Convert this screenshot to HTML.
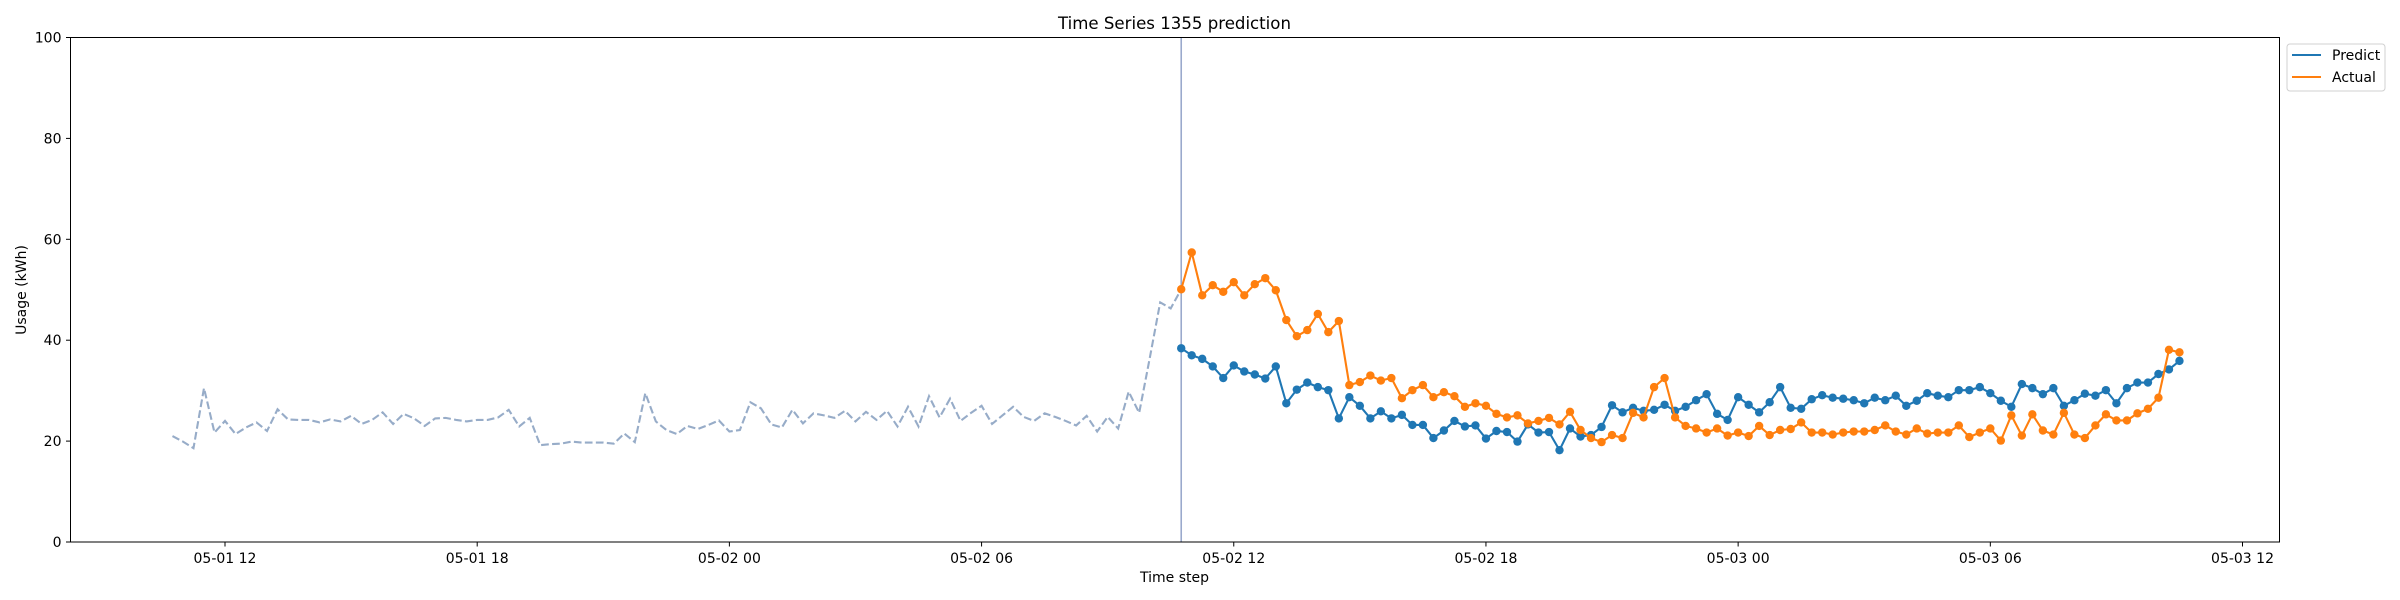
<!DOCTYPE html>
<html><head><meta charset="utf-8"><style>
html,body{margin:0;padding:0;background:#fff;}
svg{display:block;font-family:"DejaVu Sans","Liberation Sans",sans-serif;}
</style></head>
<body>
<svg id="chart" width="2400" height="600" viewBox="0 0 2400 600" xmlns="http://www.w3.org/2000/svg">
<rect x="0" y="0" width="2400" height="600" fill="#fff"/>
<text x="1174.5" y="29" font-size="16.6" text-anchor="middle" fill="#000">Time Series 1355 prediction</text>
<g id="plot"></g>
<rect x="70.5" y="37.5" width="2209" height="504.5" fill="none" stroke="#000" stroke-width="1"/>
<text x="1174.5" y="582" font-size="14" text-anchor="middle">Time step</text>
<text x="0" y="0" font-size="14" text-anchor="middle" transform="translate(26,290) rotate(-90)">Usage (kWh)</text>
<g>
<rect x="2287" y="44" width="98" height="47" rx="3" fill="#fff" stroke="#d0d0d0"/>
<line x1="2292" y1="55" x2="2321" y2="55" stroke="#1f77b4" stroke-width="2"/>
<text x="2332" y="60" font-size="14">Predict</text>
<line x1="2292" y1="77" x2="2321" y2="77" stroke="#ff7f0e" stroke-width="2"/>
<text x="2332" y="82" font-size="14">Actual</text>
</g>
</svg>
<script>
const historyValues = [21.0,19.9,18.6,30.5,21.7,24.0,21.4,22.7,23.7,22.0,26.3,24.3,24.2,24.2,23.7,24.3,23.9,25.0,23.4,24.2,25.7,23.4,25.4,24.5,23.0,24.5,24.6,24.2,23.9,24.2,24.2,24.7,26.2,22.9,24.6,19.2,19.4,19.5,19.9,19.7,19.7,19.7,19.5,21.5,19.8,29.5,23.9,22.2,21.4,23.0,22.4,23.2,24.1,21.9,22.2,27.7,26.5,23.3,22.7,26.2,23.5,25.5,25.1,24.6,26.0,23.9,25.8,24.2,26.0,22.9,26.8,22.9,28.9,24.7,28.4,24.0,25.6,27.0,23.4,25.1,26.8,24.8,24.0,25.5,24.8,24.0,23.1,25.0,21.9,24.8,22.5,29.8,25.6,36.4,47.5,46.3];
const predictValues = [38.4,37.0,36.3,34.8,32.5,35.0,33.8,33.2,32.4,34.8,27.5,30.2,31.6,30.7,30.1,24.5,28.7,27.0,24.5,25.9,24.5,25.2,23.2,23.2,20.6,22.1,24.0,22.9,23.1,20.5,22.0,21.8,19.9,23.3,21.7,21.8,18.2,22.5,20.9,21.2,22.8,27.1,25.7,26.6,26.0,26.2,27.2,26.0,26.8,28.1,29.3,25.4,24.2,28.7,27.2,25.7,27.7,30.7,26.6,26.4,28.3,29.1,28.6,28.4,28.1,27.5,28.6,28.1,29.0,27.0,28.0,29.5,29.0,28.7,30.1,30.1,30.7,29.5,28.0,26.8,31.3,30.5,29.3,30.5,27.0,28.1,29.4,29.0,30.1,27.5,30.5,31.6,31.6,33.3,34.2,35.9];
const actualValues = [50.1,57.4,48.9,50.9,49.6,51.5,48.9,51.1,52.3,49.9,44.0,40.8,42.0,45.2,41.6,43.8,31.1,31.7,33.0,32.0,32.5,28.5,30.1,31.1,28.7,29.7,28.9,26.8,27.5,27.0,25.4,24.7,25.1,23.5,24.0,24.6,23.3,25.8,22.2,20.6,19.8,21.2,20.6,25.6,24.7,30.7,32.5,24.7,23.0,22.5,21.7,22.5,21.1,21.7,21.0,23.0,21.2,22.2,22.4,23.7,21.7,21.7,21.3,21.7,21.9,21.9,22.2,23.1,21.9,21.3,22.5,21.5,21.7,21.7,23.1,20.8,21.7,22.5,20.1,25.1,21.1,25.3,22.1,21.3,25.6,21.3,20.6,23.1,25.3,24.1,24.1,25.5,26.4,28.6,38.1,37.6];
const yTicks = [0,20,40,60,80,100];
const xTickLabels = ["05-01 12","05-01 18","05-02 00","05-02 06","05-02 12","05-02 18","05-03 00","05-03 06","05-03 12"];
const xTickHours = [0,6,12,18,24,30,36,42,48];
const historyStartHour = -1.25;
const stepHours = 0.25;

const NS = "http://www.w3.org/2000/svg";
const plot = document.getElementById('plot');
const X0 = 70.5, X1 = 2279.5, Y0 = 542, Y1 = 37.5;
const xMin = -3.676, xMax = 48.88;
function xScale(h){ return X0 + (h - xMin) / (xMax - xMin) * (X1 - X0); }
function yScale(v){ return Y0 - v / 100 * (Y0 - Y1); }
function mk(tag, attrs){ const e = document.createElementNS(NS, tag); for (const k in attrs) e.setAttribute(k, attrs[k]); return e; }

yTicks.forEach(t => {
  const y = yScale(t);
  const tk = mk('line', {x1: X0 - 4.5, y1: y, x2: X0, y2: y, stroke: '#000', 'stroke-width': 1});
  
  
  plot.appendChild(tk);
  const lb = mk('text', {x: X0 - 9, y: y + 5, 'font-size': 14, 'text-anchor': 'end'});
  lb.textContent = t;
  
  
  plot.appendChild(lb);
});
xTickHours.forEach((h, i) => {
  const x = xScale(h);
  const tk = mk('line', {x1: x, y1: Y0, x2: x, y2: Y0 + 4.5, stroke: '#000', 'stroke-width': 1});
  
  
  plot.appendChild(tk);
  const lb = mk('text', {x: x, y: Y0 + 21, 'font-size': 14, 'text-anchor': 'middle'});
  lb.textContent = xTickLabels[i];
  
  
  plot.appendChild(lb);
});

const nH = historyValues.length;
const predStart = historyStartHour + nH * stepHours;
let hp = historyValues.map((v, i) => xScale(historyStartHour + i * stepHours).toFixed(2) + ',' + yScale(v).toFixed(2));
hp.push(xScale(predStart).toFixed(2) + ',' + yScale(actualValues[0]).toFixed(2));
const hist = mk('polyline', {points: hp.join(' '), fill: 'none', stroke: '#97acc8', 'stroke-width': 2.1, 'stroke-dasharray': '7.7,3.3'});


plot.appendChild(hist);

const vx = xScale(predStart);
const vl = mk('line', {x1: vx, y1: Y1, x2: vx, y2: Y0, stroke: '#9aa9cc', 'stroke-width': 1.6});


plot.appendChild(vl);

function series(vals, color, name){
  const g = mk('g', {});
  
  
  const pts = vals.map((v, i) => xScale(predStart + i * stepHours).toFixed(2) + ',' + yScale(v).toFixed(2));
  const pl = mk('polyline', {points: pts.join(' '), fill: 'none', stroke: color, 'stroke-width': 2.1});
  
  
  g.appendChild(pl);
  vals.forEach((v, i) => {
    const c = mk('circle', {cx: xScale(predStart + i * stepHours), cy: yScale(v), r: 4.2, fill: color});
    
    
    g.appendChild(c);
  });
  plot.appendChild(g);
}
series(predictValues, '#1f77b4', 'predict');
series(actualValues, '#ff7f0e', 'actual');
</script>
</body></html>
